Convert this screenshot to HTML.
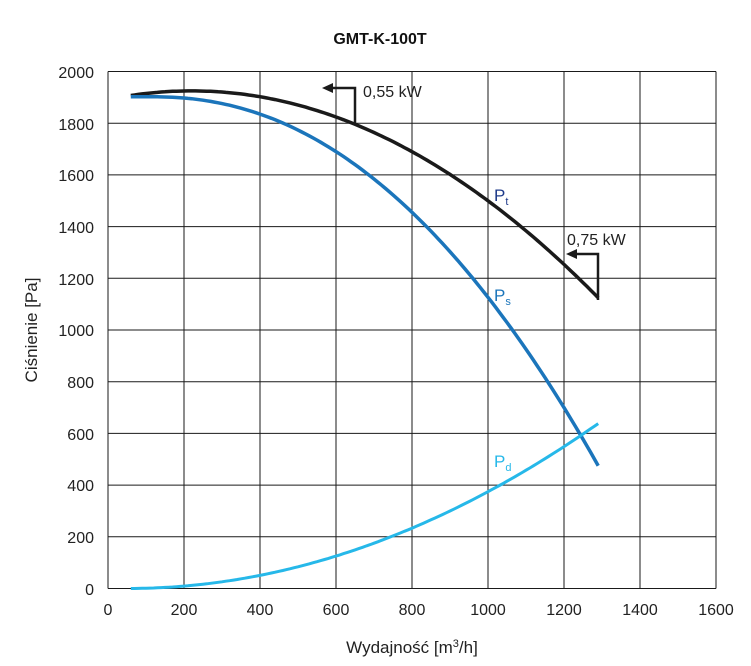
<!DOCTYPE html><html><head><style>body{margin:0;background:#fff}svg{display:block}text{font-family:"Liberation Sans",sans-serif}</style></head><body>
<svg width="751" height="666" viewBox="0 0 751 666" xmlns="http://www.w3.org/2000/svg">
<g stroke="#1a1a1a" stroke-width="1">
<line x1="108" y1="71.5" x2="716" y2="71.5"/><line x1="108" y1="123.2" x2="716" y2="123.2"/><line x1="108" y1="174.9" x2="716" y2="174.9"/><line x1="108" y1="226.6" x2="716" y2="226.6"/><line x1="108" y1="278.3" x2="716" y2="278.3"/><line x1="108" y1="330" x2="716" y2="330"/><line x1="108" y1="381.7" x2="716" y2="381.7"/><line x1="108" y1="433.4" x2="716" y2="433.4"/><line x1="108" y1="485.1" x2="716" y2="485.1"/><line x1="108" y1="536.8" x2="716" y2="536.8"/><line x1="108" y1="588.5" x2="716" y2="588.5"/>
<line x1="108" y1="71.5" x2="108" y2="588.5"/><line x1="184" y1="71.5" x2="184" y2="588.5"/><line x1="260" y1="71.5" x2="260" y2="588.5"/><line x1="336" y1="71.5" x2="336" y2="588.5"/><line x1="412" y1="71.5" x2="412" y2="588.5"/><line x1="488" y1="71.5" x2="488" y2="588.5"/><line x1="564" y1="71.5" x2="564" y2="588.5"/><line x1="640" y1="71.5" x2="640" y2="588.5"/><line x1="716" y1="71.5" x2="716" y2="588.5"/>
</g>
<g font-size="16" fill="#222" text-anchor="end">
<text x="94" y="78">2000</text><text x="94" y="130">1800</text><text x="94" y="181">1600</text><text x="94" y="233">1400</text><text x="94" y="285">1200</text><text x="94" y="336">1000</text><text x="94" y="388">800</text><text x="94" y="440">600</text><text x="94" y="491">400</text><text x="94" y="543">200</text><text x="94" y="595">0</text>
</g>
<g font-size="16" fill="#222" text-anchor="middle">
<text x="108" y="615">0</text><text x="184" y="615">200</text><text x="260" y="615">400</text><text x="336" y="615">600</text><text x="412" y="615">800</text><text x="488" y="615">1000</text><text x="564" y="615">1200</text><text x="640" y="615">1400</text><text x="716" y="615">1600</text>
<text x="412" y="653" font-size="17">Wydajność [m<tspan font-size="11" dy="-6">3</tspan><tspan dy="6">/h]</tspan></text>
<text x="380" y="44" font-size="16" font-weight="bold" fill="#111">GMT-K-100T</text>
<text transform="translate(37,330) rotate(-90)" font-size="17">Ciśnienie [Pa]</text>
</g>
<path id="pt" fill="none" stroke="#1a1a1a" stroke-width="3.5"/>
<path id="ps" fill="none" stroke="#1b75bb" stroke-width="3.5"/>
<path id="pd" fill="none" stroke="#26b8e9" stroke-width="3"/>
<g stroke="#1a1a1a" stroke-width="2.5" fill="none"><polyline points="355,124 355,88 330,88"/><polyline points="598,300 598,254 573,254"/></g>
<polygon points="322,88 333,83 333,93" fill="#1a1a1a"/><polygon points="566,254 577,249 577,259" fill="#1a1a1a"/>
<g font-size="16" fill="#222"><text x="363" y="97">0,55 kW</text><text x="567" y="245">0,75 kW</text></g>
<text x="494" y="201" font-size="17" fill="#1e3a8a">P<tspan font-size="11" dy="4">t</tspan></text>
<text x="494" y="301" font-size="17" fill="#1b75bb">P<tspan font-size="11" dy="4">s</tspan></text>
<text x="494" y="467" font-size="17" fill="#26b8e9">P<tspan font-size="11" dy="4">d</tspan></text>
</svg>
<script>
function mk(id,f){var d="";for(var v=60;v<=1290;v+=10){var x=108+0.38*v,y=588.5-0.2585*f(v);d+=(v==60?"M":"L")+x.toFixed(1)+","+y.toFixed(1)+" ";}document.getElementById(id).setAttribute("d",d);}
mk("pt",function(v){return 1925-0.000699*(v-220)*(v-220);});
var k=212/Math.pow(480,2.14);
mk("ps",function(v){var t=Math.max(0,v-120);return 1902-k*Math.pow(t,2.14);});
mk("pd",function(v){return 0.000415*Math.pow(Math.max(0,v-50),2);});
</script>
</body></html>
